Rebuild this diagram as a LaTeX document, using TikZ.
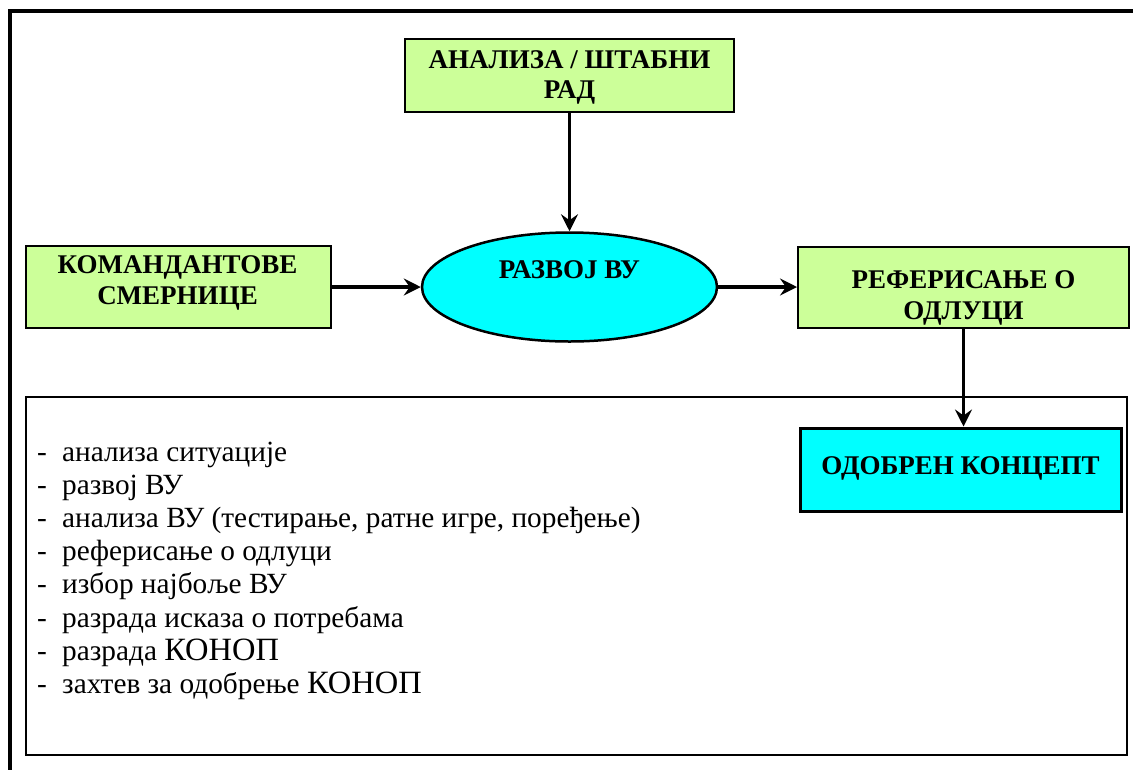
\documentclass[tikz,border=0pt]{standalone}
\usepackage{fontspec}
\setmainfont{Liberation Serif}
\usetikzlibrary{shapes.geometric,arrows.meta}
\definecolor{boxgreen}{HTML}{CCFF99}
\definecolor{boxcyan}{HTML}{00FFFF}
\newcommand{\bigword}[1]{{\fontsize{32.5}{33}\selectfont #1}}
\begin{document}
\begin{tikzpicture}[x=1pt,y=-1pt,
  boldtext/.style={anchor=base, inner sep=0pt, font=\fontsize{27}{31}\selectfont\bfseries},
  greenbox/.style={draw=black, line width=2pt, fill=boxgreen, inner sep=0pt},
  cyanbox/.style={draw=black, line width=3pt, fill=boxcyan, inner sep=0pt},
  vuell/.style={ellipse, draw=black, line width=2.5pt, fill=boxcyan, inner sep=0pt},
  conn/.style={line width=3.5pt, -{Stealth[length=17pt,width=17pt,inset=6pt]}},
  listtext/.style={anchor=base west, inner sep=0pt, font=\fontsize{29.3}{33}\selectfont},
  frame/.style={line width=4pt},
  notebox/.style={draw=black, line width=2.5pt, inner sep=0pt}
]
\useasboundingbox (0,0) rectangle (1133,769);
\clip (0,0) rectangle (1133,769);
\draw[frame] (10,800) -- (10,11) -- (1160,11);

\node[notebox, minimum width=1101, minimum height=358] (notes) at (576.5,576) {};

\node[greenbox, minimum width=329, minimum height=73] (a) at (569.5,75.5) {};
\node[boldtext] (a1) at (569.5,68) {АНАЛИЗА / ШТАБНИ};
\node[boldtext] (a2) at (569.5,98) {РАД};

\node[greenbox, minimum width=305, minimum height=82] (k) at (178.5,287) {};
\node[boldtext] (k1) at (177.5,273) {КОМАНДАНТОВЕ};
\node[boldtext] (k2) at (177.5,304) {СМЕРНИЦЕ};

\node[greenbox, minimum width=331, minimum height=81] (r) at (963.5,287) {};
\node[boldtext] (r1) at (963.5,288) {РЕФЕРИСАЊЕ О};
\node[boldtext] (r2) at (963.5,319) {ОДЛУЦИ};

\node[vuell, minimum width=295, minimum height=109] (e) at (569.5,287) {};
\node[boldtext] (e1) at (569.5,278) {РАЗВОЈ ВУ};

\node[cyanbox, minimum width=321, minimum height=83] (o) at (960.5,469.5) {};
\node[boldtext] (o1) at (960.5,474) {ОДОБРЕН КОНЦЕПТ};

\draw[conn] (a.south) -- (e.north);
\draw[conn] (k.east) -- (e.west);
\draw[conn] (e.east) -- (e.east -| r.west);
\draw[conn] (r.south) -- (r.south |- o.north);

\foreach \t [count=\i] in {
  анализа ситуације,
  развој ВУ,
  {анализа ВУ (тестирање, ратне игре, поређење)},
  реферисање о одлуци,
  избор најбоље ВУ,
  разрада исказа о потребама,
  разрада \bigword{КОНОП},
  захтев за одобрење \bigword{КОНОП}} {
  \node[listtext] (d\i) at (37,{461+33.2*(\i-1)}) {-};
  \node[listtext] (l\i) at (62,{461+33.2*(\i-1)}) {\t};
}
\end{tikzpicture}
\end{document}
